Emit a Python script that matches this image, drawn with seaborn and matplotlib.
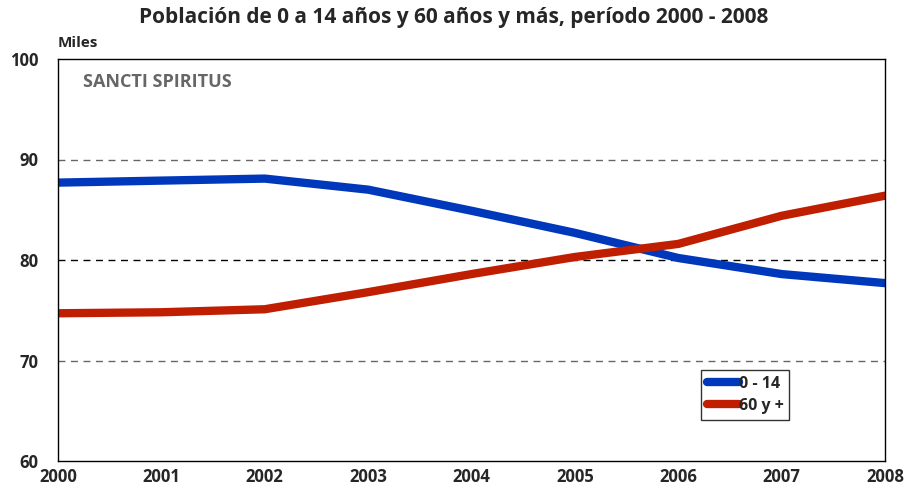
import matplotlib
matplotlib.use("Agg")
import matplotlib.pyplot as plt
import seaborn as sns
import pandas as pd

years = [2000, 2001, 2002, 2003, 2004, 2005, 2006, 2007, 2008]
pob_0_14 = [87.7, 87.9, 88.1, 87.0, 84.9, 82.7, 80.2, 78.6, 77.7]
pob_60_mas = [74.7, 74.8, 75.1, 76.8, 78.6, 80.3, 81.6, 84.4, 86.4]
series_names = ["0 - 14", "60 y +"]
yticks = [60, 70, 80, 90, 100]

df = pd.DataFrame({
    "Año": years * 2,
    "Miles": pob_0_14 + pob_60_mas,
    "Grupo": [series_names[0]] * len(years) + [series_names[1]] * len(years),
})

sns.set_theme(style="white")
plt.rcParams['font.family'] = ['Open Sans', 'DejaVu Sans']

fig = plt.figure(figsize=(9.07, 4.92), dpi=100)
ax = fig.add_axes([58/907, 1-461/492, (885-58)/907, (461-59)/492])

palette = {series_names[0]: "#0038BC", series_names[1]: "#C01E00"}
sns.lineplot(data=df, x="Año", y="Miles", hue="Grupo", palette=palette,
             linewidth=6, ax=ax, solid_capstyle="round", legend=True)

ax.set_xlim(2000, 2008)
ax.set_ylim(60, 100)
ax.set_xticks(years)
ax.set_yticks(yticks)
ax.set_xticklabels([str(y) for y in years], fontweight="bold", fontsize=12)
ax.set_yticklabels([str(v) for v in yticks], fontweight="bold", fontsize=12)
ax.tick_params(axis="x", length=0, pad=5)
ax.tick_params(axis="y", length=0, pad=14)
ax.set_xlabel("")
ax.set_ylabel("")

for v, c in [(70, "#666666"), (80, "#000000"), (90, "#666666")]:
    ax.axhline(v, color=c, linestyle=(0, (5, 4)), linewidth=1, zorder=0)

for s in ax.spines.values():
    s.set_visible(True)
    s.set_color("black")
    s.set_linewidth(1)

leg = ax.legend(loc="upper left", bbox_to_anchor=((701-58)/827, (461-370)/402),
                frameon=True, fancybox=False, edgecolor="black", fontsize=11.5,
                handlelength=2.0, handletextpad=0.0, borderpad=0.35,
                labelspacing=0.4, borderaxespad=0)
for t in leg.get_texts():
    t.set_fontweight("bold")
for h in leg.get_lines():
    h.set_linewidth(6)
leg.get_frame().set_linewidth(1)
fig.canvas.draw()
bb = leg.get_frame().get_bbox()
leg.get_frame().set_width(bb.width + 10)

fig.text(0.5, 1-18/492, "Población de 0 a 14 años y 60 años y más, período 2000 - 2008",
         ha="center", va="center", fontsize=15, fontweight="bold")
fig.text(58/907, 1-43/492, "Miles", ha="left", va="center", fontsize=11, fontweight="bold")
ax.text((83-58)/827, (461-82)/402, "SANCTI SPIRITUS", transform=ax.transAxes,
        ha="left", va="center", fontsize=13, fontweight="bold", color="#666666")

fig.savefig("out.png", dpi=100)
